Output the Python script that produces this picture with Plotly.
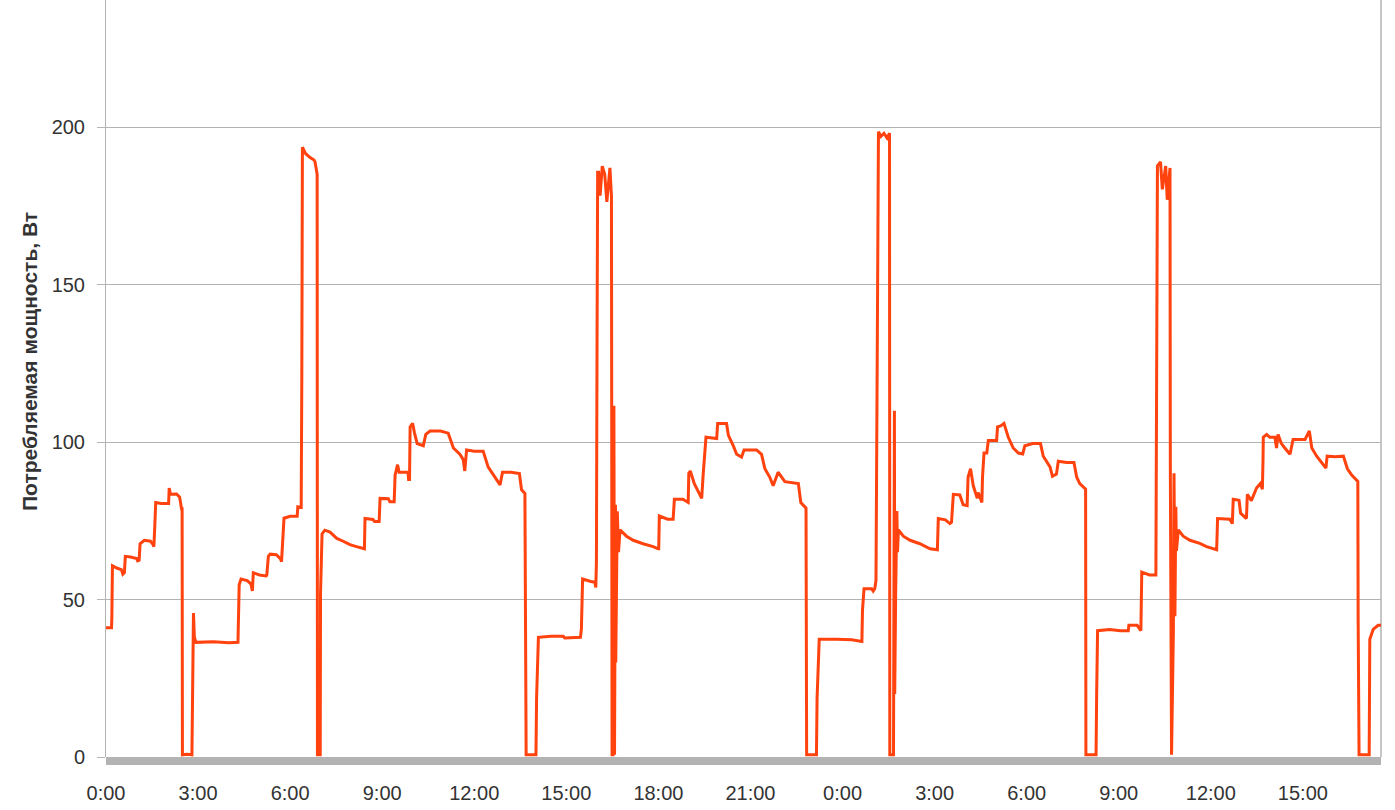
import plotly.graph_objects as go

# Time in hours from the first midnight, power in W
time_h = [
    0.00, 0.18, 0.19, 0.21, 0.35, 0.50, 0.55, 0.60, 0.63, 0.80, 1.00, 1.03, 1.08, 1.11, 1.25, 1.45,
    1.53, 1.56, 1.59, 1.62, 1.80, 2.04, 2.06, 2.10, 2.30, 2.40, 2.46, 2.48, 2.49, 2.65, 2.80, 2.82,
    2.85, 2.88, 2.93, 3.50, 4.00, 4.30, 4.31, 4.34, 4.40, 4.60, 4.72, 4.77, 4.80, 5.00, 5.22, 5.24,
    5.29, 5.35, 5.55, 5.68, 5.72, 5.76, 5.80, 6.00, 6.23, 6.25, 6.36, 6.38, 6.40, 6.50, 6.65, 6.78,
    6.81, 6.88, 6.89, 6.98, 6.99, 7.04, 7.13,
    7.30, 7.52, 7.73, 7.95, 8.16, 8.38, 8.42, 8.44, 8.70, 8.75, 8.90, 8.93, 9.20, 9.25, 9.39, 9.42,
    9.50, 9.55, 9.84, 9.86, 9.89, 9.91, 9.99, 10.05, 10.14, 10.34, 10.42, 10.56, 10.90, 11.15, 11.32,
    11.53, 11.64, 11.69, 11.75, 12.00, 12.29, 12.45, 12.67, 12.84, 12.92, 13.20, 13.47, 13.54, 13.65,
    13.67, 13.69, 13.85, 14.01, 14.03, 14.09, 14.50, 14.90, 14.95, 15.20, 15.46, 15.49, 15.53, 15.80,
    15.93, 15.96, 15.98, 16.00, 16.02,
    16.05, 16.10, 16.17, 16.25, 16.32, 16.42, 16.47, 16.49, 16.52, 16.55, 16.57, 16.60, 16.61, 16.63,
    16.66, 16.70, 16.75, 16.96, 17.18, 17.50, 17.83, 17.99, 18.01, 18.03, 18.30, 18.48, 18.52, 18.80,
    18.95, 18.97, 18.99, 19.04, 19.17, 19.31, 19.41, 19.46, 19.50, 19.55, 19.90, 19.93, 20.22, 20.28,
    20.44, 20.55, 20.71, 20.79, 21.20, 21.36, 21.47, 21.63, 21.74, 21.90, 22.12, 22.56, 22.64, 22.77,
    22.81, 22.83, 23.00, 23.15, 23.17, 23.24, 23.80, 24.30, 24.63, 24.65, 24.70, 24.95, 25.00, 25.05,
    25.09, 25.12, 25.17, 25.25, 25.35, 25.45, 25.53, 25.54, 25.66, 25.69, 25.70, 25.73, 25.77, 25.79,
    25.82, 25.98, 26.20, 26.52, 26.85, 27.09, 27.12, 27.35, 27.50, 27.55, 27.61, 27.82, 27.93, 28.06,
    28.09, 28.17, 28.26, 28.39, 28.42, 28.54, 28.56, 28.61, 28.70, 28.75, 29.02, 29.05, 29.15, 29.26,
    29.40, 29.56, 29.73, 29.87, 29.94, 30.20, 30.45, 30.54, 30.76, 30.84, 30.97, 31.03, 31.30, 31.54,
    31.63, 31.73, 31.90, 31.92, 31.93, 32.10, 32.26, 32.28, 32.31, 32.70, 33.05, 33.31, 33.33, 33.60,
    33.71, 33.72, 33.75, 34.00, 34.21, 34.23, 34.26, 34.36, 34.42, 34.53, 34.58, 34.67, 34.68, 34.72,
    34.78, 34.80, 34.83, 34.86, 34.88, 34.94, 35.10, 35.32, 35.64, 35.86, 36.19, 36.22, 36.62, 36.70,
    36.73, 36.92, 36.97, 37.16, 37.19, 37.32, 37.49, 37.61, 37.68, 37.70, 37.71, 37.82, 37.92, 38.09,
    38.14, 38.19, 38.30, 38.41, 38.58, 38.68, 39.07, 39.21, 39.29, 39.45, 39.66, 39.75, 39.79, 40.05,
    40.32, 40.45, 40.59, 40.77, 40.79, 40.80, 40.83, 41.00, 41.16, 41.18, 41.29, 41.45, 41.55,
]
power_w = [
    41.0, 41.0, 44.0, 60.7, 60.0, 59.5, 58.0, 58.5, 63.7, 63.5, 63.0, 62.3, 62.5, 67.7, 68.8, 68.5,
    67.5, 66.8, 73.4, 80.8, 80.5, 80.5, 85.4, 83.4, 83.5, 82.5, 78.8, 78.8, 0.7, 0.9, 0.7, 22.7,
    45.7, 38.0, 36.4, 36.6, 36.3, 36.4, 42.7, 54.7, 56.5, 56.0, 55.0, 52.7, 58.5, 57.8, 57.5, 57.8,
    63.7, 64.4, 64.2, 63.0, 62.0, 69.4, 75.8, 76.4, 76.4, 79.4, 79.2, 120.0, 193.6, 191.6, 190.3, 189.5,
    189.0, 185.0, 0.7, 0.7, 52.0, 70.8, 72.0,
    71.4, 69.4, 68.5, 67.4, 66.8, 66.1, 66.1, 75.7, 75.4, 74.8, 74.8, 82.1, 82.0, 81.0, 81.0, 89.5,
    92.8, 90.4, 90.4, 88.1, 88.1, 104.8, 105.9, 103.0, 99.5, 98.8, 102.4, 103.5, 103.5, 102.8, 98.1,
    96.1, 94.4, 90.8, 97.5, 97.1, 97.1, 92.1, 88.8, 86.4, 90.4, 90.4, 90.0, 84.8, 83.7,
    41.4, 0.7, 0.7, 0.7, 18.7, 38.0, 38.3, 38.3, 37.8, 38.0, 38.0, 40.7, 56.5, 55.7,
    55.5, 53.8, 61.8, 130.0, 185.6,
    185.6, 178.2, 187.6, 185.0, 176.2, 187.0, 178.0, 0.7, 0.7, 111.5, 0.7, 80.1, 30.0, 50.0,
    78.0, 65.0, 72.1, 70.1, 68.8, 67.7, 66.8, 66.1, 66.1, 76.5, 75.5, 75.5, 81.8, 81.8,
    80.8, 80.8, 90.1, 90.8, 86.8, 84.1, 82.1, 89.9, 96.8, 101.5, 101.1, 105.9, 105.9, 102.1,
    98.8, 96.1, 95.2, 97.5, 97.5, 96.1, 91.5, 88.8, 86.1, 90.4, 87.4, 86.8, 80.8, 79.4,
    79.0, 0.7, 0.7, 0.7, 18.7, 37.4, 37.4, 37.2, 36.7, 46.7, 53.4, 53.4, 52.7, 53.4,
    56.1, 128.2, 198.5, 197.0, 198.0, 196.5, 198.0, 0.7, 0.7, 109.9, 20.0, 51.4, 78.1, 65.0,
    72.1, 70.1, 68.8, 67.7, 66.1, 65.8, 75.7, 75.3, 74.1, 74.5, 83.4, 83.2, 80.1, 79.8,
    88.8, 91.5, 86.1, 82.1, 84.0, 80.8, 88.8, 96.5, 96.5, 100.5, 100.5, 104.8, 105.1, 105.9,
    101.5, 98.1, 96.5, 96.2, 98.8, 99.5, 99.5, 95.5, 92.1, 89.1, 89.8, 93.9, 93.5, 93.5,
    88.8, 86.8, 85.4, 85.0, 0.7, 0.7, 0.7, 20.0, 40.1, 40.5, 40.1, 40.1, 41.8, 41.8,
    40.1, 40.1, 58.7, 57.8, 57.8, 124.8, 187.6, 188.9, 180.2, 187.6, 176.9, 187.0, 93.5, 0.7,
    40.0, 90.1, 44.7, 79.4, 65.4, 72.1, 70.1, 68.8, 67.8, 66.8, 65.8, 75.7, 75.5, 74.1,
    81.8, 81.5, 77.4, 75.7, 83.4, 81.4, 85.4, 86.8, 85.0, 94.1, 101.5, 102.4, 101.5, 101.5,
    98.1, 102.4, 99.5, 98.1, 96.1, 100.8, 100.8, 103.5, 98.1, 95.5, 92.8, 91.7, 95.5, 95.3,
    95.5, 91.5, 89.5, 87.7, 87.5, 44.1, 0.7, 0.7, 0.7, 37.4, 40.5, 41.8, 41.8,
]

x_tick_hours = [0, 3, 6, 9, 12, 15, 18, 21, 24, 27, 30, 33, 36, 39]
x_tick_labels = ["0:00", "3:00", "6:00", "9:00", "12:00", "15:00", "18:00", "21:00",
                 "0:00", "3:00", "6:00", "9:00", "12:00", "15:00"]
y_tick_values = [0, 50, 100, 150, 200]
y_title = "Потребляемая мощность, Вт"

W, H = 1395, 810
ML, MR, MT, MB = 106, 14, 0, 53
plot_h = H - MT - MB
plot_w = W - ML - MR
GRAY = "#b3b3b3"
TXT = "#333333"
FONT = "Liberation Sans, Arial, sans-serif"

fig = go.Figure()
fig.add_trace(go.Scatter(
    x=time_h, y=power_w, mode="lines",
    line=dict(color="#ff420e", width=3),
    showlegend=False, hoverinfo="skip",
))

fig.update_layout(
    width=W, height=H,
    margin=dict(l=ML, r=MR, t=MT, b=MB, pad=0),
    paper_bgcolor="white", plot_bgcolor="white",
    font=dict(family=FONT, size=20, color=TXT),
    xaxis=dict(
        range=[0, 41.545],
        tickmode="array", tickvals=x_tick_hours, ticktext=x_tick_labels,
        showgrid=False, zeroline=False, showline=False,
        ticks="", ticklabelstandoff=22,
        tickfont=dict(family=FONT, size=20, color=TXT),
    ),
    yaxis=dict(
        range=[0, 757 / 3.15],
        tickmode="array", tickvals=y_tick_values,
        showgrid=True, gridcolor=GRAY, gridwidth=1,
        zeroline=False, showline=True, linecolor=GRAY, linewidth=1,
        ticks="outside", ticklen=8, tickcolor=GRAY, tickwidth=1,
        ticklabelstandoff=8,
        tickfont=dict(family=FONT, size=20, color=TXT),
    ),
    shapes=[
        dict(type="rect", xref="paper", yref="paper",
             x0=0, x1=1, y0=-8 / plot_h, y1=0,
             fillcolor=GRAY, line=dict(width=0), layer="above"),
        dict(type="line", xref="paper", yref="paper",
             x0=1, x1=1, y0=0, y1=1,
             line=dict(color=GRAY, width=1.5), layer="below"),
    ],
    annotations=[
        dict(text="<b>" + y_title + "</b>", textangle=-90,
             xref="paper", yref="paper",
             x=(30 - ML) / plot_w, y=(757 - 362) / plot_h,
             xanchor="center", yanchor="middle", showarrow=False,
             font=dict(family=FONT, size=21, color=TXT)),
    ],
)

fig.write_html(
    "out.html",
    config={"displayModeBar": False},
    post_script="document.body.style.margin='0px';document.body.style.overflow='hidden';",
)
